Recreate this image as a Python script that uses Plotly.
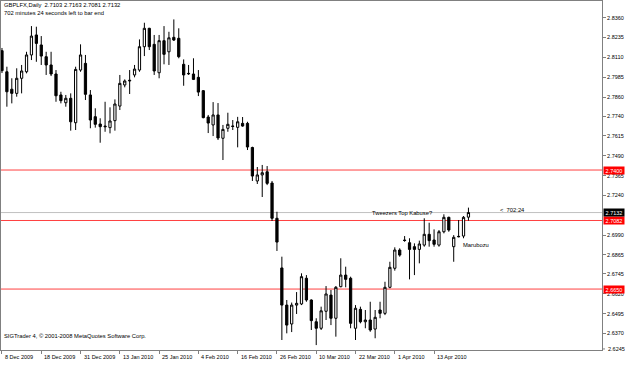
import plotly.graph_objects as go

# ---- data (GBP daily candles, one per trading day) ----
bar_index = list(range(96))
open_ = [2.8152, 2.8019, 2.7909, 2.7883, 2.7978, 2.8019, 2.8125, 2.8251, 2.8188, 2.8114,
         2.8062, 2.8005, 2.7873, 2.7824, 2.7852, 2.7698, 2.8030, 2.8072, 2.7873, 2.7736,
         2.7690, 2.7677, 2.7667, 2.7711, 2.7803, 2.7936, 2.7961, 2.7999, 2.8030, 2.8177,
         2.8293, 2.8192, 2.8013, 2.8215, 2.8145, 2.8236, 2.8230, 2.8066, 2.8009, 2.8005,
         2.7984, 2.7900, 2.7734, 2.7684, 2.7747, 2.7600, 2.7663, 2.7677, 2.7669, 2.7694,
         2.7694, 2.7542, 2.7331, 2.7369, 2.7389, 2.7318, 2.7096, 2.6783, 2.6549, 2.6430,
         2.6549, 2.6556, 2.6718, 2.6581, 2.6444, 2.6403, 2.6510, 2.6612, 2.6466, 2.6665,
         2.6738, 2.6718, 2.6403, 2.6522, 2.6444, 2.6455, 2.6398, 2.6518, 2.6497, 2.6661,
         2.6781, 2.6896, 2.6959, 2.6942, 2.6917, 2.6900, 2.6927, 2.6995, 2.6959, 2.6927,
         2.7011, 2.7102, 2.6917, 2.6982, 2.6984, 2.7103]
high = [2.8169, 2.8051, 2.7978, 2.8041, 2.8062, 2.8145, 2.8307, 2.8303, 2.8244, 2.8145,
        2.8145, 2.8030, 2.7893, 2.7873, 2.7883, 2.8051, 2.8192, 2.8125, 2.7904, 2.7789,
        2.7726, 2.7830, 2.7795, 2.7845, 2.7999, 2.7971, 2.8030, 2.8062, 2.8223, 2.8328,
        2.8296, 2.8251, 2.8251, 2.8307, 2.8271, 2.8349, 2.8293, 2.8097, 2.8062, 2.8104,
        2.8030, 2.7904, 2.7747, 2.7828, 2.7822, 2.7684, 2.7761, 2.7715, 2.7735, 2.7734,
        2.7704, 2.7547, 2.7419, 2.7432, 2.7425, 2.7331, 2.7137, 2.6854, 2.6581, 2.6565,
        2.6631, 2.6749, 2.6738, 2.6585, 2.6466, 2.6539, 2.6669, 2.6644, 2.6669, 2.6844,
        2.6791, 2.6728, 2.6549, 2.6539, 2.6518, 2.6570, 2.6518, 2.6570, 2.6696, 2.6822,
        2.6913, 2.6907, 2.6984, 2.6970, 2.6938, 2.6955, 2.7096, 2.7068, 2.7026, 2.7022,
        2.7121, 2.7106, 2.6990, 2.7085, 2.7110, 2.7163]
low = [2.8011, 2.7799, 2.7820, 2.7862, 2.7883, 2.8009, 2.8093, 2.8082, 2.8062, 2.7999,
       2.7992, 2.7830, 2.7820, 2.7799, 2.7648, 2.7652, 2.8019, 2.7841, 2.7663, 2.7667,
       2.7572, 2.7641, 2.7631, 2.7648, 2.7778, 2.7921, 2.7879, 2.7984, 2.8019, 2.8118,
       2.8156, 2.7999, 2.7978, 2.8066, 2.8062, 2.8213, 2.8104, 2.7931, 2.7999, 2.7967,
       2.7866, 2.7726, 2.7633, 2.7614, 2.7589, 2.7463, 2.7641, 2.7652, 2.7543, 2.7673,
       2.7526, 2.7331, 2.7312, 2.7230, 2.7305, 2.7079, 2.6890, 2.6329, 2.6371, 2.6379,
       2.6493, 2.6549, 2.6570, 2.6392, 2.6297, 2.6392, 2.6455, 2.6423, 2.6350, 2.6661,
       2.6661, 2.6403, 2.6329, 2.6434, 2.6403, 2.6381, 2.6340, 2.6466, 2.6486, 2.6655,
       2.6766, 2.6854, 2.6948, 2.6711, 2.6738, 2.6812, 2.6917, 2.6917, 2.6917, 2.6917,
       2.7001, 2.7011, 2.6822, 2.6976, 2.6970, 2.7081]
close = [2.8026, 2.7893, 2.7883, 2.7978, 2.8024, 2.8125, 2.8244, 2.8198, 2.8118, 2.8062,
         2.8005, 2.7868, 2.7837, 2.7852, 2.7704, 2.8034, 2.8125, 2.7877, 2.7715, 2.7688,
         2.7673, 2.7673, 2.7709, 2.7816, 2.7946, 2.7961, 2.7965, 2.8036, 2.8177, 2.8293,
         2.8177, 2.8024, 2.8215, 2.8129, 2.8233, 2.8219, 2.8114, 2.7999, 2.8007, 2.7971,
         2.7891, 2.7730, 2.7696, 2.7747, 2.7602, 2.7656, 2.7688, 2.7675, 2.7704, 2.7677,
         2.7545, 2.7362, 2.7369, 2.7383, 2.7316, 2.7096, 2.6946, 2.6549, 2.6423, 2.6549,
         2.6560, 2.6728, 2.6581, 2.6451, 2.6403, 2.6513, 2.6619, 2.6466, 2.6661, 2.6738,
         2.6711, 2.6434, 2.6529, 2.6444, 2.6455, 2.6392, 2.6472, 2.6497, 2.6661, 2.6787,
         2.6896, 2.6864, 2.6956, 2.6900, 2.6900, 2.6934, 2.6995, 2.6955, 2.6932, 2.7011,
         2.7102, 2.7022, 2.6976, 2.6980, 2.7102, 2.7132]

date_tick_bars = [0, 8, 16, 24, 32, 40, 48, 56, 64, 72, 80, 88]
date_tick_labels = ["8 Dec 2009", "18 Dec 2009", "31 Dec 2009", "13 Jan 2010", "25 Jan 2010",
                    "4 Feb 2010", "16 Feb 2010", "26 Feb 2010", "10 Mar 2010", "22 Mar 2010",
                    "1 Apr 2010", "13 Apr 2010"]
price_ticks = [2.8360, 2.8235, 2.8110, 2.7985, 2.7860, 2.7740, 2.7615, 2.7490, 2.7365,
               2.7240, 2.6990, 2.6865, 2.6745, 2.6620, 2.6495, 2.6370]
bottom_price_label = 2.6245
level_lines = [2.7400, 2.7082, 2.6650]
bid_price = 2.7132
header_line1 = "GBPLFX,Daily  2.7103 2.7163 2.7081 2.7132"
header_line2 = "702 minutes 24 seconds left to bar end"
footer = "SIGTrader 4, © 2001-2008 MetaQuotes Software Corp."
notes = [("Tweezers Top Kabuse?", 74.9, 2.7132), ("Marubozu", 93.4, 2.6927),
         ("<  702:24", 101.0, 2.7150)]

FONT = "Liberation Sans"

fig = go.Figure()
fig.add_trace(go.Candlestick(
    x=bar_index, open=open_, high=high, low=low, close=close,
    increasing=dict(line=dict(color="black", width=1), fillcolor="white"),
    decreasing=dict(line=dict(color="black", width=1), fillcolor="black"),
    whiskerwidth=0, showlegend=False, hoverinfo="skip",
))

shapes = []
for lv in level_lines:
    shapes.append(dict(type="line", xref="paper", x0=0, x1=1, yref="y", y0=lv, y1=lv,
                       line=dict(color="#FF4040", width=1), layer="below"))
shapes.append(dict(type="line", xref="paper", x0=0, x1=1, yref="y", y0=bid_price, y1=bid_price,
                   line=dict(color="#C0C0C0", width=1), layer="below"))
# tick mark for the bottom price label that sits on the frame edge
shapes.append(dict(type="line", xref="paper", x0=1, x1=1 + 3 / 601, yref="paper", y0=0.003, y1=0.003,
                   line=dict(color="#808080", width=1)))

annotations = []
for lv in level_lines:
    annotations.append(dict(x=1, xref="paper", xanchor="left", xshift=1, y=lv, yref="y",
                            yanchor="middle", text=f"{lv:.4f}", showarrow=False,
                            bgcolor="#FF0000", font=dict(family=FONT, size=5.5, color="white"),
                            width=20, height=7, borderpad=0))
annotations.append(dict(x=1, xref="paper", xanchor="left", xshift=1, y=bid_price, yref="y",
                        yanchor="middle", text=f"{bid_price:.4f}", showarrow=False,
                        bgcolor="#000000", font=dict(family=FONT, size=5.5, color="white"),
                        width=20, height=7, borderpad=0))
annotations.append(dict(x=1, xref="paper", xanchor="left", xshift=4, y=0, yref="paper",
                        yanchor="middle", yshift=1, text=f"{bottom_price_label:.4f}", showarrow=False,
                        font=dict(family=FONT, size=5.5, color="black")))
for b, lab in zip(date_tick_bars, date_tick_labels):
    annotations.append(dict(x=b, xref="x", xanchor="left", xshift=1, y=0, yref="paper",
                            yanchor="top", yshift=-2, text=lab, showarrow=False,
                            font=dict(family=FONT, size=5.5, color="black")))
annotations.append(dict(x=0, xref="paper", xanchor="left", xshift=1, y=1, yref="paper",
                        yanchor="middle", yshift=-4, text=header_line1, showarrow=False,
                        font=dict(family=FONT, size=5.8, color="black")))
annotations.append(dict(x=0, xref="paper", xanchor="left", xshift=1, y=1, yref="paper",
                        yanchor="middle", yshift=-12, text=header_line2, showarrow=False,
                        font=dict(family=FONT, size=5.8, color="black")))
annotations.append(dict(x=0, xref="paper", xanchor="left", xshift=1, y=0, yref="paper",
                        yanchor="middle", yshift=14, text=footer, showarrow=False,
                        font=dict(family=FONT, size=5.8, color="black")))
for txt, xb, yp in notes:
    annotations.append(dict(x=xb, xref="x", xanchor="left", y=yp, yref="y", yanchor="middle",
                            text=txt, showarrow=False,
                            font=dict(family=FONT, size=5.8, color="black")))

fig.update_layout(
    width=625, height=365,
    margin=dict(l=1, r=23, t=1, b=15),
    paper_bgcolor="white", plot_bgcolor="white",
    boxgap=0.35,
    shapes=shapes, annotations=annotations,
    xaxis=dict(range=[-0.2, 122.2], showgrid=False, zeroline=False,
               rangeslider=dict(visible=False),
               tickvals=date_tick_bars, showticklabels=False,
               ticks="outside", ticklen=3, tickcolor="#808080", tickwidth=1,
               showline=True, linecolor="#808080", linewidth=1, mirror=True),
    yaxis=dict(range=[2.6266, 2.8465], side="right", showgrid=False, zeroline=False,
               tickvals=price_ticks, ticktext=[f"{v:.4f}" for v in price_ticks],
               ticks="outside", ticklen=3, tickcolor="#808080", tickwidth=1,
               tickfont=dict(family=FONT, size=5.5, color="black"),
               showline=True, linecolor="#808080", linewidth=1, mirror=True),
)

fig.write_html("out.html")
